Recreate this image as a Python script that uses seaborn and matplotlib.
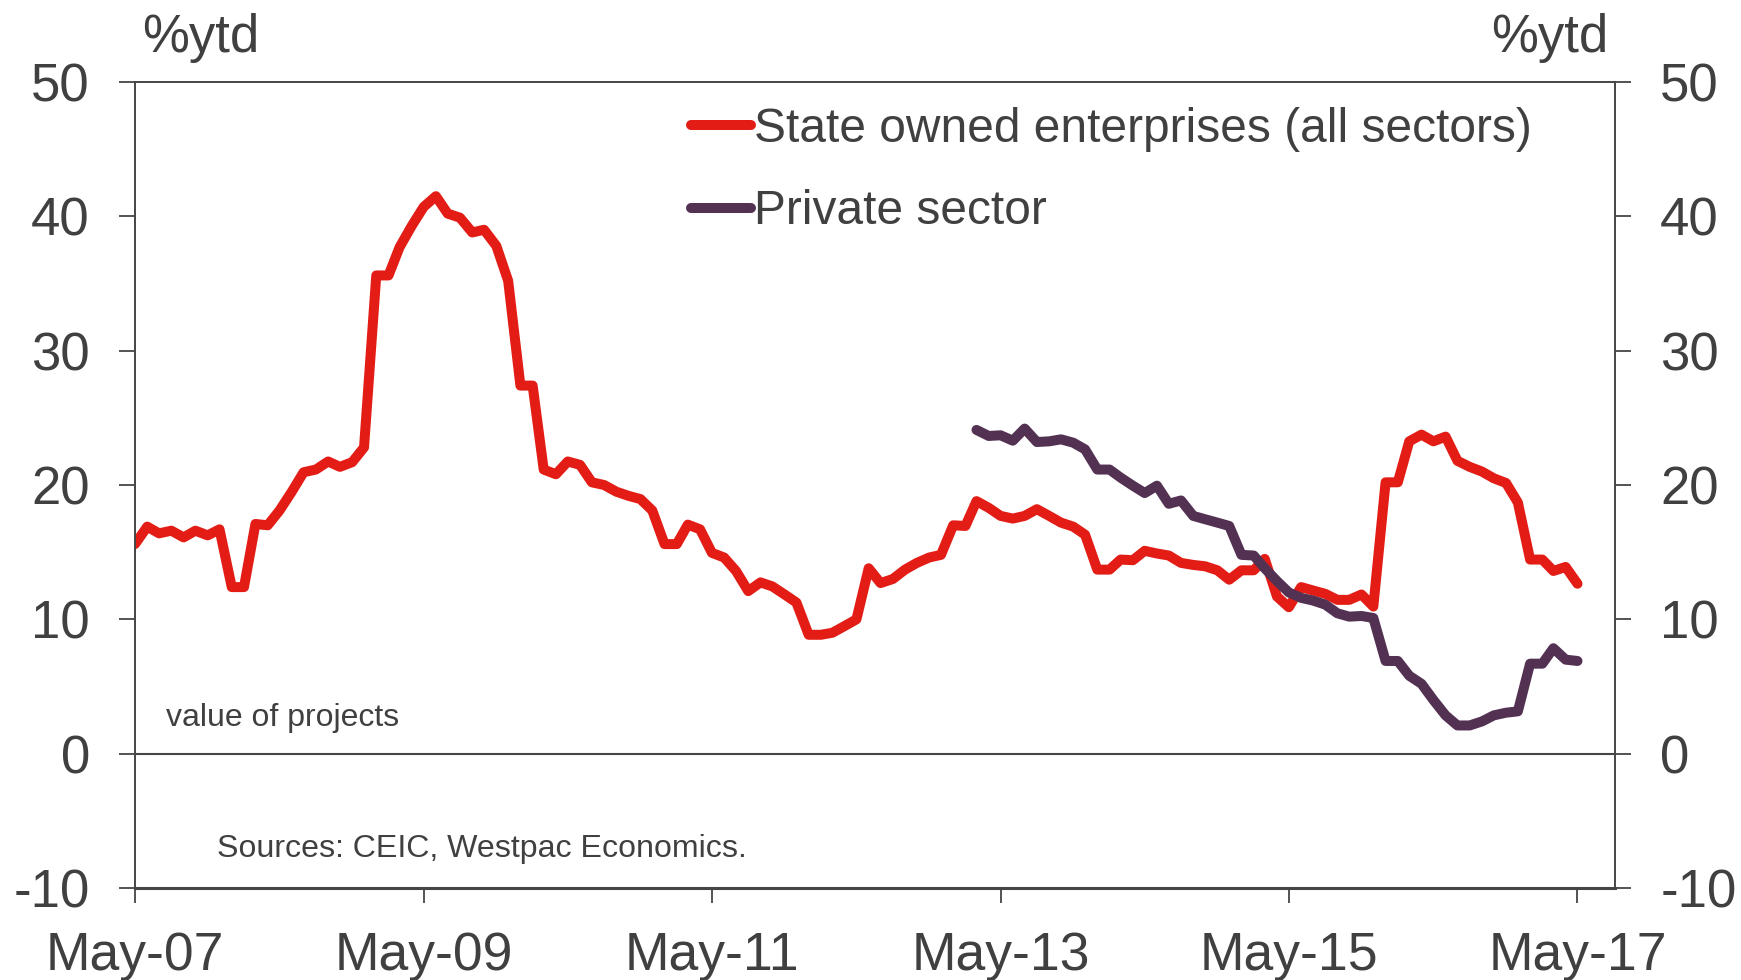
import numpy as np
import pandas as pd
import matplotlib
matplotlib.use("Agg")
import matplotlib.pyplot as plt
import matplotlib.dates as mdates
import seaborn as sns

# ---------------- data ----------------
dates = pd.date_range("2007-05-01", periods=121, freq="MS")

soe = [15.6, 16.9, 16.4, 16.6, 16.1, 16.6, 16.25, 16.7, 12.4, 12.4,
       17.1, 17.0, 18.1, 19.5, 20.95, 21.15, 21.75, 21.35, 21.7, 22.8,
       35.6, 35.6, 37.7, 39.3, 40.7, 41.5, 40.2, 39.9, 38.8, 39.0,
       37.8, 35.2, 27.4, 27.4, 21.15, 20.8, 21.75, 21.5, 20.2, 20.0,
       19.5, 19.2, 18.95, 18.1, 15.6, 15.6, 17.05, 16.7, 14.95, 14.6,
       13.6, 12.1, 12.75, 12.45, 11.85, 11.25, 8.85, 8.85, 9.0, 9.5,
       10.0, 13.8, 12.7, 13.0, 13.7, 14.2, 14.6, 14.8, 17.0, 16.95,
       18.8, 18.3, 17.7, 17.5, 17.7, 18.2, 17.7, 17.2, 16.9, 16.3,
       13.7, 13.7, 14.45, 14.4, 15.1, 14.9, 14.75, 14.2, 14.05, 13.95,
       13.65, 12.95, 13.65, 13.65, 14.5, 11.7, 10.9, 12.4, 12.15, 11.9,
       11.45, 11.45, 11.85, 10.95, 20.2, 20.2, 23.25, 23.75, 23.25, 23.6,
       21.8, 21.35, 21.0, 20.5, 20.15, 18.7, 14.45, 14.45, 13.6, 13.9,
       12.65]

private_start = 70  # first month with private-sector data (Mar-13)
private = [24.1, 23.65, 23.7, 23.3, 24.2, 23.2, 23.25, 23.4, 23.15, 22.65,
           21.15, 21.15, 20.55, 19.95, 19.4, 19.95, 18.6, 18.85, 17.7, 17.45,
           17.2, 16.95, 14.8, 14.75, 13.8, 12.85, 12.0, 11.6, 11.4, 11.1,
           10.45, 10.2, 10.25, 10.1, 6.9, 6.9, 5.8, 5.2, 4.0, 2.85,
           2.1, 2.1, 2.4, 2.85, 3.05, 3.15, 6.7, 6.7, 7.85, 7.0,
           6.9]

series_names = ["State owned enterprises (all sectors)", "Private sector"]
series_colors = ["#E31D16", "#533152"]
tick_dates = ["2007-05-01", "2009-05-01", "2011-05-01",
              "2013-05-01", "2015-05-01", "2017-05-01"]
y_ticks = [-10, 0, 10, 20, 30, 40, 50]

# ---------------- frame ----------------
df = pd.concat([
    pd.DataFrame({"date": dates, "value": soe, "series": series_names[0]}),
    pd.DataFrame({"date": dates[private_start:], "value": private,
                  "series": series_names[1]}),
], ignore_index=True)

# ---------------- style ----------------
sns.set_style("white")
plt.rcParams["font.family"] = ["Liberation Sans", "DejaVu Sans"]
plt.rcParams["axes.unicode_minus"] = False
TXT = "#404040"
AX = "#454545"

fig = plt.figure(figsize=(17.41, 9.80), dpi=100)
ax = fig.add_axes([135 / 1741, 1 - 888 / 980, (1615 - 135) / 1741, (888 - 82) / 980])

sns.lineplot(data=df, x="date", y="value", hue="series",
             palette=dict(zip(series_names, series_colors)),
             linewidth=7.2, ax=ax, legend=True,
             solid_capstyle="round", solid_joinstyle="round")

ax.axhline(0, color=AX, lw=1.5, zorder=1)

ax.set_ylim(-10, 50)
ax.set_yticks(y_ticks)
ax.set_xlim(pd.Timestamp("2007-05-01"), pd.Timestamp("2017-08-04"))
ax.set_xticks([pd.Timestamp(d) for d in tick_dates])
ax.xaxis.set_major_formatter(mdates.DateFormatter("%b-%y"))
ax.set_xlabel("")
ax.set_ylabel("")

for side in ["left", "right", "top", "bottom"]:
    ax.spines[side].set_visible(True)
    ax.spines[side].set_color(AX)
    ax.spines[side].set_linewidth(1.4)
ax.spines["bottom"].set_linewidth(2.2)

ax.tick_params(axis="y", which="both", left=True, right=True,
               labelleft=True, labelright=True, direction="out",
               length=11.5, width=1.3, color=AX, labelsize=38,
               labelcolor=TXT, pad=21)
ax.tick_params(axis="x", bottom=True, direction="out", length=11,
               width=1.3, color=AX, labelsize=38.5, labelcolor=TXT, pad=20)

# legend
handles, labels = ax.get_legend_handles_labels()
for h in handles:
    h.set_linewidth(7.2)
    h.set_solid_capstyle("round")
leg = ax.legend(handles, labels, loc="upper left",
                bbox_to_anchor=(691 / 1741, 1 - 107 / 980),
                bbox_transform=fig.transFigure,
                frameon=False, fontsize=34.5, handlelength=1.25,
                handletextpad=0.06, labelspacing=0.78,
                borderpad=0, borderaxespad=0)
for t in leg.get_texts():
    t.set_color(TXT)

# annotations
fig.text(142 / 1741, 1 - 38 / 980, "%ytd", fontsize=38, color=TXT,
         ha="left", va="center")
fig.text(1608 / 1741, 1 - 38 / 980, "%ytd", fontsize=38, color=TXT,
         ha="right", va="center")
fig.text(166 / 1741, 1 - 718 / 980, "value of projects", fontsize=23,
         color=TXT, ha="left", va="center")
fig.text(217 / 1741, 1 - 849 / 980, "Sources: CEIC, Westpac Economics.",
         fontsize=23.1, color=TXT, ha="left", va="center")

fig.savefig("out.png", dpi=100)
